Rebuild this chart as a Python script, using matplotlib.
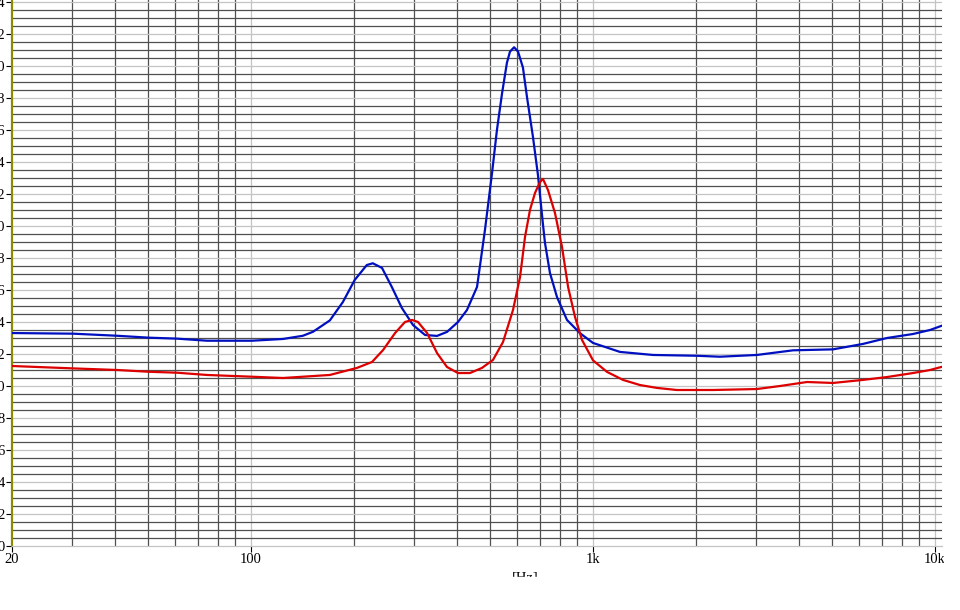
import numpy as np
import matplotlib
matplotlib.use("Agg")
import matplotlib.pyplot as plt
from matplotlib.ticker import FixedLocator, NullFormatter
from matplotlib.patches import Rectangle

# curves (frequency in Hz, value)
blue_freq = [20, 30.2, 40.6, 50.3, 60.8, 74.3, 100.6, 124, 141.8, 151.8, 170, 185.6,
             201, 218, 227, 241.5, 258, 276, 297.6, 322.7, 349.8, 374, 402.8, 427.9,
             457.9, 483, 506.5, 523.6, 542, 560, 571.7, 587.7, 603.5, 623.8, 641,
             667.4, 690, 713.8, 723.6, 748.3, 784.5, 839, 916, 1000, 1199, 1497,
             2014, 2350, 3014, 3844, 5031, 6155, 7237, 8622, 9667, 10476]
blue_val = [13.31, 13.27, 13.14, 13.02, 12.96, 12.83, 12.83, 12.94, 13.14, 13.39, 14.1, 15.25,
            16.63, 17.56, 17.67, 17.38, 16.19, 14.88, 13.81, 13.19, 13.13, 13.38, 14.0, 14.75,
            16.19, 19.75, 23.3, 26.0, 28.3, 30.2, 30.9, 31.17, 30.9, 29.9, 28.06,
            25.56, 23.2, 20.1, 18.94, 17.06, 15.56, 14.13, 13.3, 12.69, 12.13, 11.94,
            11.89, 11.83, 11.94, 12.23, 12.29, 12.63, 13.0, 13.25, 13.5, 13.77]

red_freq = [20, 30.2, 40.6, 50.3, 60.8, 74.3, 100.6, 124, 141.8, 170, 204, 225.8,
            243.3, 263.7, 281.9, 295.6, 307.7, 327.2, 349.8, 374, 402.8, 436.7,
            473.3, 509.9, 545.5, 583.4, 611.7, 632.5, 654, 676.4, 699.7, 713.8,
            738.3, 774, 811.5, 845.3, 885.8, 928.3, 1000, 1099, 1224, 1372, 1538,
            1758, 2243, 3014, 3521, 4224, 5031, 6155, 7237, 8622, 9667, 10476]
red_val = [11.25, 11.1, 11.0, 10.89, 10.83, 10.69, 10.58, 10.5, 10.58, 10.69, 11.13, 11.5,
           12.25, 13.31, 14.0, 14.13, 14.0, 13.31, 12.06, 11.19, 10.81, 10.81,
           11.13, 11.63, 12.75, 14.75, 16.81, 19.31, 21.0, 22.06, 22.75, 22.94,
           22.25, 20.81, 18.69, 16.19, 14.31, 12.88, 11.6, 10.88, 10.38, 10.06, 9.88,
           9.75, 9.75, 9.81, 10.0, 10.25, 10.19, 10.38, 10.56, 10.81, 11.0, 11.2]

x_ticks = [20, 100, 1000, 10000]
x_labels = ["20", "100", "1k", "10k"]
y_ticks = list(range(0, 35, 2))

fig = plt.figure(figsize=(9.6, 6.1), dpi=100)
ax = fig.add_axes([12 / 960, 64 / 610, 930 / 960, 546 / 610])

ax.set_xscale("log")
ax.set_xlim(20, 10480)
ax.set_ylim(0, 34.125)

# vertical grid: decades light, the rest dark
minor_x = [m * 10 ** e for e in range(1, 4) for m in range(2, 10)
           if 20 < m * 10 ** e < 10480 and m * 10 ** e not in x_ticks]
for f in minor_x:
    ax.axvline(f, color="#505050", lw=0.9, zorder=1)
for f in x_ticks[1:]:
    ax.axvline(f, color="#c4c4c4", lw=0.9, zorder=1)

# horizontal grid: every 2 light, every 0.5 dark
for v in np.arange(0.5, 34.1, 0.5):
    if v % 2 == 0:
        ax.axhline(v, color="#c4c4c4", lw=0.9, zorder=1)
    else:
        ax.axhline(v, color="#505050", lw=0.9, zorder=1)

ax.plot(blue_freq, blue_val, color="#0010c0", lw=1.6, zorder=3)
ax.plot(red_freq, red_val, color="#dd0000", lw=1.6, zorder=3)

ax.xaxis.set_major_locator(FixedLocator(x_ticks))
ax.set_xticklabels(x_labels)
ax.xaxis.set_minor_locator(FixedLocator([]))
ax.xaxis.set_minor_formatter(NullFormatter())
ax.yaxis.set_major_locator(FixedLocator(y_ticks))
ax.yaxis.set_minor_locator(FixedLocator([]))

for lab in ax.get_xticklabels() + ax.get_yticklabels():
    lab.set_family("Liberation Serif")
    lab.set_fontsize(10.5)
ax.tick_params(axis="both", direction="out", length=4, width=0.8, color="black", pad=1)

for side in ["top", "right"]:
    ax.spines[side].set_visible(False)
ax.spines["left"].set_color("#8c8c00")
ax.spines["left"].set_linewidth(1.6)
ax.spines["bottom"].set_color("#c4c4c4")
ax.spines["bottom"].set_linewidth(0.9)

fig.text(525 / 960, 1 - 578 / 610, "[Hz]", family="Liberation Serif", fontsize=10.5,
         ha="center", va="center")
# the reference is cut off just below the axis name and right of the plot
fig.patches.append(Rectangle((0, 0), 1, 1 - 577 / 610, transform=fig.transFigure,
                             color="white", zorder=10))
fig.patches.append(Rectangle((944 / 960, 0), 16 / 960, 1, transform=fig.transFigure,
                             color="white", zorder=10))

fig.savefig("out.png", dpi=100)
